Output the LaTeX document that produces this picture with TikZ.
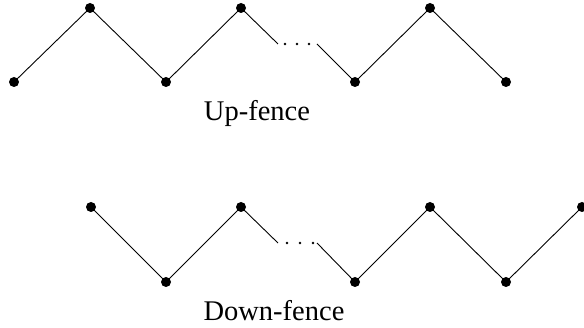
\documentclass[tikz,border=0pt]{standalone}
\usepackage{fontspec}
\setmainfont{Liberation Serif}
\begin{document}
\begin{tikzpicture}[x=1pt,y=-1pt,
  vtx/.style={circle,fill=black,inner sep=0pt,minimum size=10pt},
  dotty/.style={circle,fill=black,inner sep=0pt,minimum size=2.6pt},
  edge/.style={line width=0.9pt},
  lbl/.style={font=\fontsize{28.5}{34}\selectfont,anchor=base,inner sep=0pt}]
\useasboundingbox (0,0) rectangle (584,328);
% Up-fence
\node[vtx] (u1) at (14,82) {};
\node[vtx] (u2) at (90,8) {};
\node[vtx] (u3) at (166,82) {};
\node[vtx] (u4) at (241,8) {};
\coordinate (ua) at (278,44);
\coordinate (ub) at (317,44);
\node[vtx] (u5) at (355,82) {};
\node[vtx] (u6) at (430,8) {};
\node[vtx] (u7) at (506,82) {};
\draw[edge] (u1.center) -- (u2.center) -- (u3.center) -- (u4.center) -- (ua);
\draw[edge] (ub) -- (u5.center) -- (u6.center) -- (u7.center);
\node[dotty] (ud1) at (285,44) {};
\node[dotty] (ud2) at (297,44) {};
\node[dotty] (ud3) at (309,44) {};
\node[lbl] (ul) at (257,121) {Up-fence};
% Down-fence
\node[vtx] (d1) at (91,207) {};
\node[vtx] (d2) at (166,282) {};
\node[vtx] (d3) at (241,207) {};
\coordinate (da) at (278,243);
\coordinate (db) at (317,243);
\node[vtx] (d4) at (355,282) {};
\node[vtx] (d5) at (430,207) {};
\node[vtx] (d6) at (506,282) {};
\node[vtx] (d7) at (582,207) {};
\draw[edge] (d1.center) -- (d2.center) -- (d3.center) -- (da);
\draw[edge] (db) -- (d4.center) -- (d5.center) -- (d6.center) -- (d7.center);
\node[dotty] (dd1) at (287,243) {};
\node[dotty] (dd2) at (300,243) {};
\node[dotty] (dd3) at (313,243) {};
\node[lbl] (dl) at (274,321) {Down-fence};
\end{tikzpicture}
\end{document}
